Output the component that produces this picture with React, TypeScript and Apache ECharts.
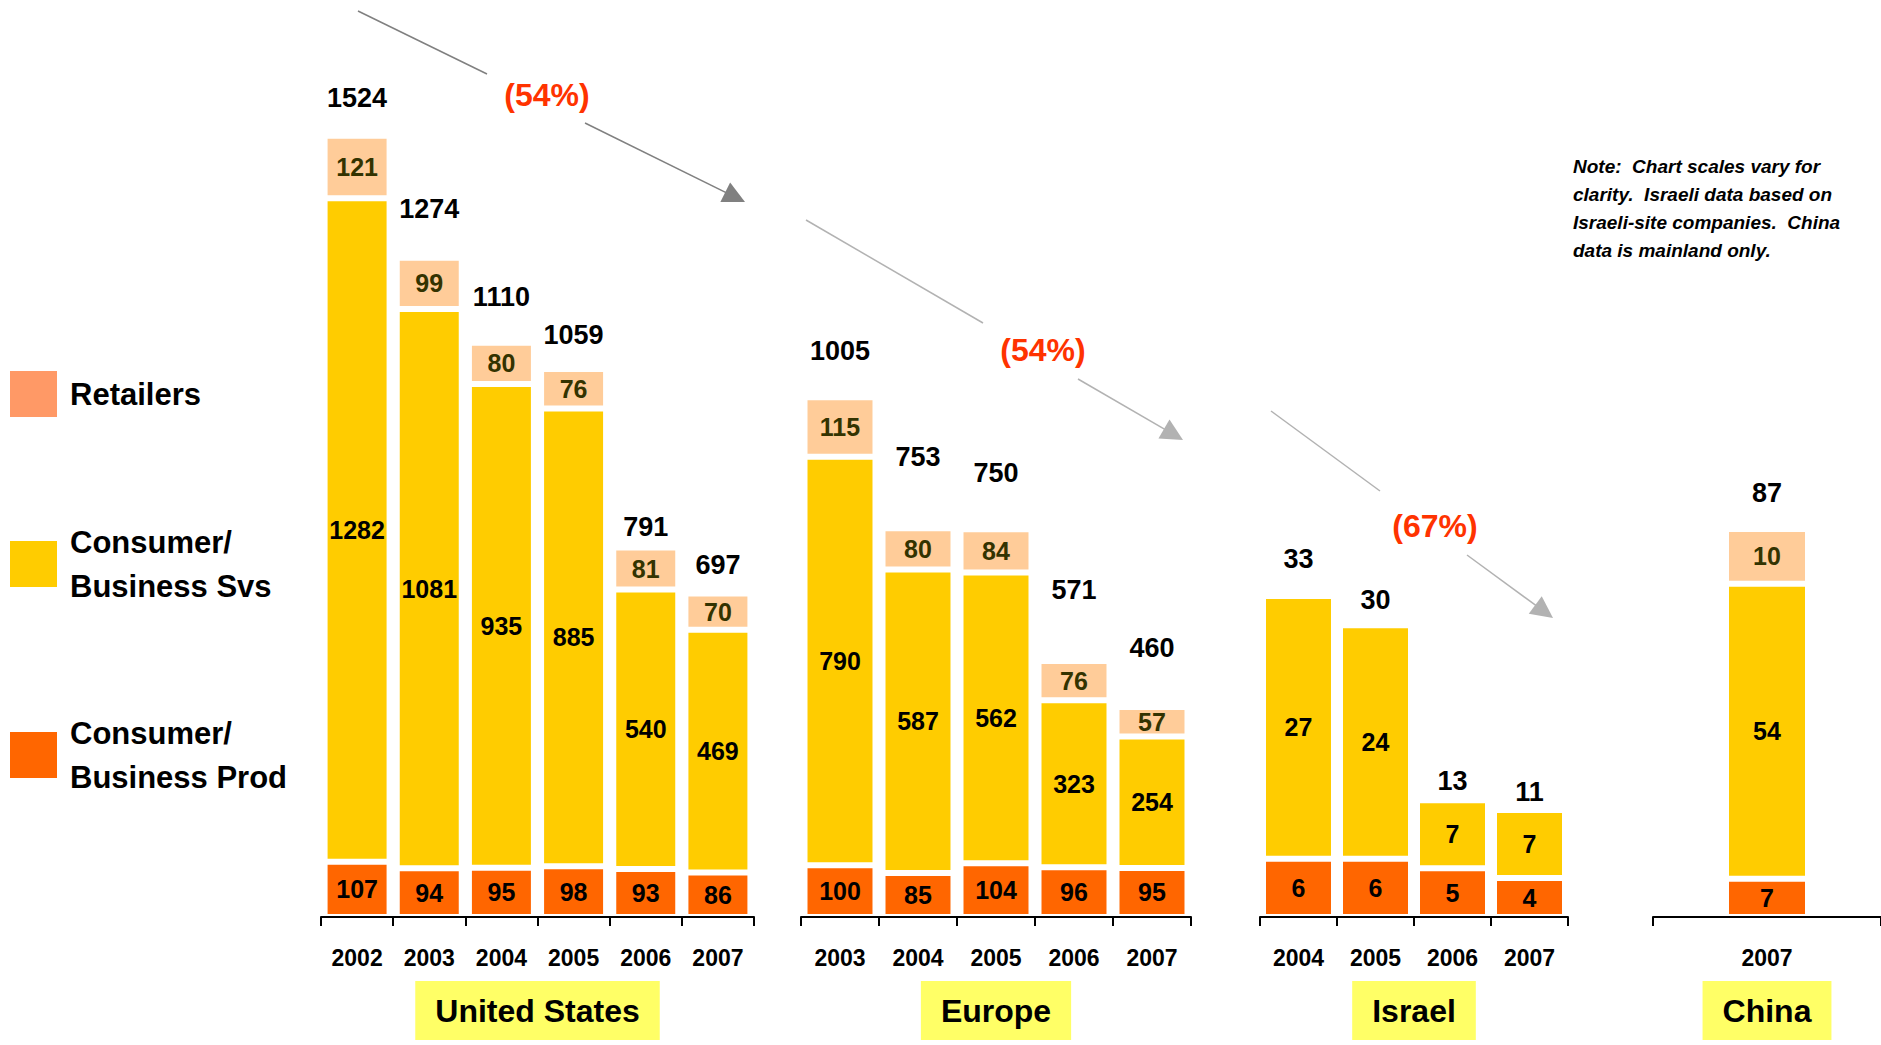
import React, { useEffect, useRef } from 'react';
import * as echarts from 'echarts';

const FONT = "'Liberation Sans Narrow', 'Arial Narrow', 'Liberation Sans', Arial, sans-serif";

// ---- data ----
const usYears = ['2002', '2003', '2004', '2005', '2006', '2007'];
const usProd = [107, 94, 95, 98, 93, 86];
const usSvs = [1282, 1081, 935, 885, 540, 469];
const usRetail = [121, 99, 80, 76, 81, 70];
const usTotals = [1524, 1274, 1110, 1059, 791, 697];

const euYears = ['2003', '2004', '2005', '2006', '2007'];
const euProd = [100, 85, 104, 96, 95];
const euSvs = [790, 587, 562, 323, 254];
const euRetail = [115, 80, 84, 76, 57];
const euTotals = [1005, 753, 750, 571, 460];

const ilYears = ['2004', '2005', '2006', '2007'];
const ilProd = [6, 6, 5, 4];
const ilSvs = [27, 24, 7, 7];
const ilTotals = [33, 30, 13, 11];

const cnYears = ['2007'];
const cnProd = [7];
const cnSvs = [54];
const cnRetail = [10];
const cnTotals = [87];

const regionNames = ['United States', 'Europe', 'Israel', 'China'];
const changeLabels = ['(54%)', '(54%)', '(67%)'];
const noteText = 'Note:  Chart scales vary for\nclarity.  Israeli data based on\nIsraeli-site companies.  China\ndata is mainland only.';

const NAME_PROD = 'Consumer/\nBusiness Prod';
const NAME_SVS = 'Consumer/\nBusiness Svs';
const NAME_RET = 'Retailers';

// ---- layout (pixels) ----
const panels = [
  { years: usYears, prod: usProd, svs: usSvs, retail: usRetail, totals: usTotals, left: 321, width: 433, axisY: 922, max: 1579, barWidth: 65, gaps: [24, 35, 32, 21, 7, 15] },
  { years: euYears, prod: euProd, svs: euSvs, retail: euRetail, totals: euTotals, left: 801, width: 390, axisY: 925, max: 1580, barWidth: 71, gaps: [33, 58, 43, 58, 46] },
  { years: ilYears, prod: ilProd, svs: ilSvs, retail: null, totals: ilTotals, left: 1260, width: 308, axisY: 921, max: 84, barWidth: 71, gaps: [24, 12, 6, 5] },
  { years: cnYears, prod: cnProd, svs: cnSvs, retail: cnRetail, totals: cnTotals, left: 1653, width: 228, axisY: 922, max: 149.5, barWidth: 82, gaps: [22] },
];
const GRID_TOP = 100;

const COL_PROD = '#FF6600';
const COL_SVS = '#FFCC00';
const COL_RET = '#FFCC99';
const COL_RET_LEGEND = '#FF9966';

function arrow(x1: number, y1: number, x2: number, y2: number, tx: number, ty: number, x3: number, y3: number, x4: number, y4: number, color: string, label: string) {
  const dx = x4 - x3, dy = y4 - y3;
  const len = Math.sqrt(dx * dx + dy * dy);
  const ux = dx / len, uy = dy / len;
  const L = 22, W = 11;
  const bx = x4 - L * ux, by = y4 - L * uy;
  const nx = -uy, ny = ux;
  const ex = x4 - (L - 2) * ux, ey = y4 - (L - 2) * uy;
  return [
    { type: 'line', shape: { x1, y1, x2, y2 }, style: { stroke: color, lineWidth: 1.5 } },
    { type: 'line', shape: { x1: x3, y1: y3, x2: ex, y2: ey }, style: { stroke: color, lineWidth: 1.5 } },
    { type: 'polygon', shape: { points: [[x4, y4], [bx + W * nx, by + W * ny], [bx - W * nx, by - W * ny]] }, style: { fill: color } },
    { type: 'text', x: tx, y: ty, style: { text: label, fill: '#FF3300', font: `bold 32px ${FONT}`, align: 'center', verticalAlign: 'middle' } },
  ];
}

export default function App() {
  const ref = useRef<HTMLDivElement>(null);
  useEffect(() => {
    if (!ref.current) return;
    const chart = echarts.init(ref.current, null, { renderer: 'svg' });

    const grids: any[] = [];
    const xAxes: any[] = [];
    const yAxes: any[] = [];
    const series: any[] = [];
    const segLabel = { show: true, position: 'inside', fontFamily: FONT, fontSize: 25, fontWeight: 'bold', color: '#000' };

    panels.forEach((p, i) => {
      const height = p.axisY - GRID_TOP;
      grids.push({ left: p.left, top: GRID_TOP, width: p.width, height });
      xAxes.push({
        type: 'category', gridIndex: i, data: p.years, z: 10,
        axisLine: { show: true, lineStyle: { color: '#000', width: 2 } },
        axisTick: { show: true, inside: false, alignWithLabel: false, interval: 0, length: 9, lineStyle: { color: '#000', width: 2 } },
        axisLabel: { interval: 0, fontFamily: FONT, fontSize: 23, fontWeight: 'bold', color: '#000', margin: 29 },
        name: regionNames[i], nameLocation: 'middle', nameGap: 64,
        nameTextStyle: { fontFamily: FONT, fontSize: 32, fontWeight: 'bold', color: '#000', backgroundColor: '#FFFF66', padding: [14, 20, 13, 20], verticalAlign: 'top' },
      });
      yAxes.push({ type: 'value', gridIndex: i, min: 0, max: p.max, show: false, splitLine: { show: false } });
      const stack = 'st' + i;
      const base = { type: 'bar', xAxisIndex: i, yAxisIndex: i, stack, barWidth: p.barWidth, itemStyle: { borderColor: '#fff', borderWidth: 3 } };
      series.push({ ...base, name: NAME_PROD, data: p.prod, itemStyle: { ...base.itemStyle, color: COL_PROD }, label: segLabel });
      series.push({ ...base, name: NAME_SVS, data: p.svs, itemStyle: { ...base.itemStyle, color: COL_SVS }, label: segLabel });
      if (p.retail) {
        series.push({ ...base, name: NAME_RET, data: p.retail, itemStyle: { ...base.itemStyle, color: COL_RET }, label: { ...segLabel, color: '#333300' } });
      }
      series.push({
        type: 'bar', xAxisIndex: i, yAxisIndex: i, stack, barWidth: p.barWidth, name: 'total' + i,
        itemStyle: { color: 'rgba(0,0,0,0)', borderWidth: 0 },
        data: p.totals.map((t, k) => ({ value: 0, label: { distance: p.gaps[k] } })),
        label: {
          show: true, position: 'top', fontFamily: FONT, fontSize: 27, fontWeight: 'bold', color: '#000',
          formatter: (prm: any) => String(p.totals[prm.dataIndex]),
        },
      });
    });

    const graphics: any[] = [
      ...arrow(358, 11, 487, 74, 547, 95, 585, 123, 745, 202, '#808080', changeLabels[0]),
      ...arrow(806, 220, 983, 323, 1043, 350, 1078, 379, 1183, 440, '#B2B2B2', changeLabels[1]),
      ...arrow(1271, 411, 1380, 491, 1435, 526, 1467, 555, 1553, 618, '#B2B2B2', changeLabels[2]),
      { type: 'text', x: 1573, y: 152, style: { text: noteText, fill: '#000', font: `italic bold 19px ${FONT}`, lineHeight: 28, verticalAlign: 'top' } },
    ];

    chart.setOption({
      animation: false,
      backgroundColor: '#fff',
      grid: grids,
      xAxis: xAxes,
      yAxis: yAxes,
      series,
      legend: {
        orient: 'vertical', left: 10, top: 371, padding: 0,
        itemWidth: 47, itemHeight: 46, itemGap: 103, selectedMode: false, icon: 'rect',
        itemStyle: { borderWidth: 0 },
        data: [
          { name: NAME_RET, itemStyle: { color: COL_RET_LEGEND, borderWidth: 0 } },
          { name: NAME_SVS, itemStyle: { color: COL_SVS, borderWidth: 0 } },
          { name: NAME_PROD, itemStyle: { color: COL_PROD, borderWidth: 0 } },
        ],
        textStyle: { fontFamily: FONT, fontSize: 31, fontWeight: 'bold', color: '#000', lineHeight: 44, padding: [0, 0, 0, 8] },
      },
      graphic: graphics,
    });
    return () => chart.dispose();
  }, []);
  return <div ref={ref} style={{ position: 'absolute', left: 0, top: 0, width: 1881, height: 1045 }} />;
}
